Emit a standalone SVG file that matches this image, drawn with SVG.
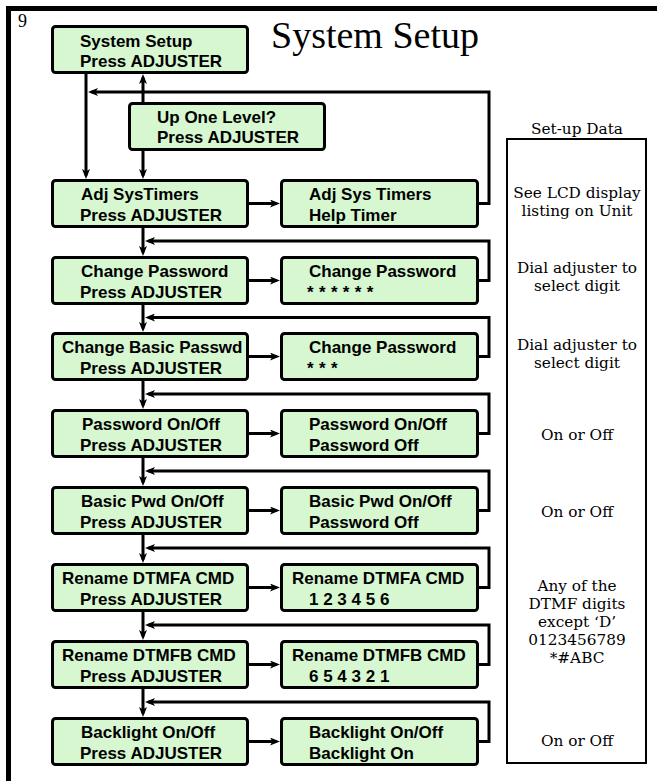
<svg xmlns="http://www.w3.org/2000/svg" width="657" height="781" viewBox="0 0 657 781">
<defs>
<style>
.box{fill:#d6f7d0;stroke:#000;stroke-width:3}
.t{font-family:"Liberation Sans",Arial,sans-serif;font-weight:bold;font-size:17px;fill:#000}
.c{fill:none;stroke:#000;stroke-width:3}
.s{font-family:"DejaVu Serif",serif;font-size:15.3px;fill:#000;text-anchor:middle}
</style>
<marker id="ah" markerUnits="userSpaceOnUse" viewBox="0 0 10 8" markerWidth="10" markerHeight="8" refX="6.5" refY="4" orient="auto">
<path d="M0,0 L10,4 L0,8 L2.5,4 z" fill="#000"/>
</marker>
</defs>
<rect width="657" height="781" fill="#fff"/>
<g id="frame">
<path d="M8.5,781 V8.5 H657" fill="none" stroke="#000" stroke-width="5"/>
<text x="18" y="27" font-family="Liberation Serif,serif" font-size="18">9</text>
<text x="271" y="48" font-family="Liberation Serif,serif" font-size="38">System Setup</text>
</g>
<g id="connectors">
<path class="c" d="M86,74 V175.5" marker-end="url(#ah)"/>
<path class="c" d="M143,102 V77.5" marker-end="url(#ah)"/>
<path class="c" d="M143,151 V175.5" marker-end="url(#ah)"/>
<path class="c" d="M479,203.5 H489 V92 H91.5" marker-end="url(#ah)"/>
<path class="c" d="M249,203.5 H276.5" marker-end="url(#ah)"/>
<path class="c" d="M143,228 V252.5" marker-end="url(#ah)"/>
<path class="c" d="M479,280.5 H489 V241 H148.5" marker-end="url(#ah)"/>
<path class="c" d="M249,280.5 H276.5" marker-end="url(#ah)"/>
<path class="c" d="M143,305 V328.5" marker-end="url(#ah)"/>
<path class="c" d="M479,356.5 H489 V317.5 H148.5" marker-end="url(#ah)"/>
<path class="c" d="M249,356.5 H276.5" marker-end="url(#ah)"/>
<path class="c" d="M143,381 V405.5" marker-end="url(#ah)"/>
<path class="c" d="M479,433.5 H489 V394 H148.5" marker-end="url(#ah)"/>
<path class="c" d="M249,433.5 H276.5" marker-end="url(#ah)"/>
<path class="c" d="M143,458 V482.5" marker-end="url(#ah)"/>
<path class="c" d="M479,510.5 H489 V471 H148.5" marker-end="url(#ah)"/>
<path class="c" d="M249,510.5 H276.5" marker-end="url(#ah)"/>
<path class="c" d="M143,535 V559.5" marker-end="url(#ah)"/>
<path class="c" d="M479,587.5 H489 V548 H148.5" marker-end="url(#ah)"/>
<path class="c" d="M249,587.5 H276.5" marker-end="url(#ah)"/>
<path class="c" d="M143,612 V636.5" marker-end="url(#ah)"/>
<path class="c" d="M479,664.5 H489 V625 H148.5" marker-end="url(#ah)"/>
<path class="c" d="M249,664.5 H276.5" marker-end="url(#ah)"/>
<path class="c" d="M143,689 V713.5" marker-end="url(#ah)"/>
<path class="c" d="M479,741.5 H489 V702 H148.5" marker-end="url(#ah)"/>
<path class="c" d="M249,741.5 H276.5" marker-end="url(#ah)"/>
</g>
<g id="n-system-setup"><rect class="box" x="52.5" y="26.5" width="195" height="46" rx="3"/><text class="t" x="80" y="47">System Setup</text><text class="t" x="80" y="67">Press ADJUSTER</text></g>
<g id="n-up-one-level"><rect class="box" x="129.5" y="103.5" width="195" height="46" rx="3"/><text class="t" x="157" y="123">Up One Level?</text><text class="t" x="157" y="143">Press ADJUSTER</text></g>

<g id="n-adj-systimers"><rect class="box" x="52.5" y="180.5" width="195" height="46" rx="3"/><text class="t" x="81" y="199.5">Adj SysTimers</text><text class="t" x="80" y="220.5">Press ADJUSTER</text></g>
<g id="n-adj-systimers-help"><rect class="box" x="281.5" y="180.5" width="196" height="46" rx="3"/><text class="t" x="309" y="199.5">Adj Sys Timers</text><text class="t" x="309" y="220.5">Help Timer</text></g>

<g id="n-change-password"><rect class="box" x="52.5" y="257.5" width="195" height="46" rx="3"/><text class="t" x="81" y="276.5">Change Password</text><text class="t" x="80" y="297.5">Press ADJUSTER</text></g>
<g id="n-change-password-digits"><rect class="box" x="281.5" y="257.5" width="196" height="46" rx="3"/><text class="t" x="307" y="297.5" letter-spacing="0.3">* * * * * *</text><text class="t" x="309" y="276.5">Change Password</text></g>

<g id="n-change-basic"><rect class="box" x="52.5" y="333.5" width="195" height="46" rx="3"/><text class="t" x="62" y="352.5">Change Basic Passwd</text><text class="t" x="80" y="373.5">Press ADJUSTER</text></g>
<g id="n-change-basic-digits"><rect class="box" x="281.5" y="333.5" width="196" height="46" rx="3"/><text class="t" x="309" y="352.5">Change Password</text><text class="t" x="307" y="373.5" letter-spacing="0.3">* * *</text></g>

<g id="n-password-onoff"><rect class="box" x="52.5" y="410.5" width="195" height="46" rx="3"/><text class="t" x="82" y="429.5">Password On/Off</text><text class="t" x="80" y="450.5">Press ADJUSTER</text></g>
<g id="n-password-onoff-val"><rect class="box" x="281.5" y="410.5" width="196" height="46" rx="3"/><text class="t" x="309" y="429.5">Password On/Off</text><text class="t" x="309" y="450.5">Password Off</text></g>

<g id="n-basic-pwd-onoff"><rect class="box" x="52.5" y="487.5" width="195" height="46" rx="3"/><text class="t" x="81" y="506.5">Basic Pwd On/Off</text><text class="t" x="80" y="527.5">Press ADJUSTER</text></g>
<g id="n-basic-pwd-onoff-val"><rect class="box" x="281.5" y="487.5" width="196" height="46" rx="3"/><text class="t" x="309" y="506.5">Basic Pwd On/Off</text><text class="t" x="309" y="527.5">Password Off</text></g>

<g id="n-rename-dtmfa"><rect class="box" x="52.5" y="564.5" width="195" height="46" rx="3"/><text class="t" x="62" y="583.5">Rename DTMFA CMD</text><text class="t" x="80" y="604.5">Press ADJUSTER</text></g>
<g id="n-rename-dtmfa-val"><rect class="box" x="281.5" y="564.5" width="196" height="46" rx="3"/><text class="t" x="292" y="583.5">Rename DTMFA CMD</text><text class="t" x="309" y="604.5">1 2 3 4 5 6</text></g>

<g id="n-rename-dtmfb"><rect class="box" x="52.5" y="641.5" width="195" height="46" rx="3"/><text class="t" x="62" y="660.5">Rename DTMFB CMD</text><text class="t" x="80" y="681.5">Press ADJUSTER</text></g>
<g id="n-rename-dtmfb-val"><rect class="box" x="281.5" y="641.5" width="196" height="46" rx="3"/><text class="t" x="292" y="660.5">Rename DTMFB CMD</text><text class="t" x="309" y="681.5">6 5 4 3 2 1</text></g>

<g id="n-backlight"><rect class="box" x="52.5" y="718.5" width="195" height="46" rx="3"/><text class="t" x="81" y="737.5">Backlight On/Off</text><text class="t" x="80" y="758.5">Press ADJUSTER</text></g>
<g id="n-backlight-val"><rect class="box" x="281.5" y="718.5" width="196" height="46" rx="3"/><text class="t" x="309" y="737.5">Backlight On/Off</text><text class="t" x="309" y="758.5">Backlight On</text></g>

<g id="setup-data">
<text class="s" x="577" y="134">Set-up Data</text>
<rect x="507" y="139" width="139" height="624" fill="none" stroke="#000" stroke-width="2"/>
<text class="s" x="577" y="198">See LCD display</text>
<text class="s" x="577" y="216">listing on Unit</text>
<text class="s" x="577" y="273">Dial adjuster to</text>
<text class="s" x="577" y="291">select digit</text>
<text class="s" x="577" y="350">Dial adjuster to</text>
<text class="s" x="577" y="368">select digit</text>
<text class="s" x="577" y="440">On or Off</text>
<text class="s" x="577" y="517">On or Off</text>
<text class="s" x="577" y="591">Any of the</text>
<text class="s" x="577" y="609">DTMF digits</text>
<text class="s" x="577" y="627">except ‘D’</text>
<text class="s" x="577" y="645">0123456789</text>
<text class="s" x="577" y="663">*#ABC</text>
<text class="s" x="577" y="746">On or Off</text>
</g>
</svg>
